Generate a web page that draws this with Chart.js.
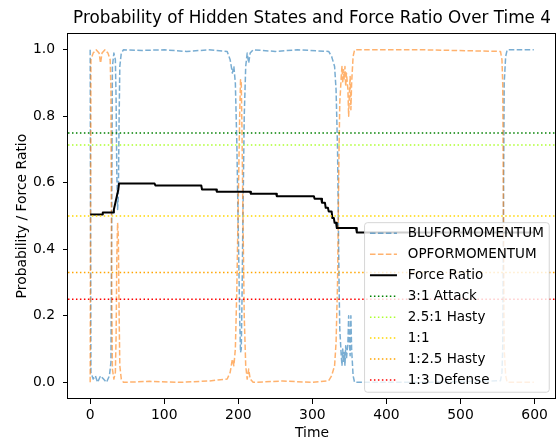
<!DOCTYPE html>
<html>
<head>
<meta charset="utf-8">
<script src="https://cdn.jsdelivr.net/npm/chart.js@4.4.0/dist/chart.umd.min.js"></script>
<style>
  html, body { margin: 0; padding: 0; background: #fff; }
  #wrap { width: 560px; height: 442px; }
</style>
</head>
<body>
<div id="wrap"><canvas id="chart" width="560" height="442"></canvas></div>
<script>
// --- data ---
const bluTime = [0, 1, 4, 7, 10, 14, 18, 22, 26, 28, 29, 30, 32, 34, 35, 36, 37, 38, 39, 40, 42, 45, 70, 100, 130, 160, 185, 189, 192, 194, 196, 198, 200, 202, 203, 204, 205, 206, 208, 210, 212, 214, 216, 220, 250, 280, 322, 326, 330, 332, 334, 335, 336, 337, 339, 340, 341, 342, 343, 344, 345, 346, 348, 349, 350, 351, 352, 353, 355, 357, 450, 554, 556, 557, 558, 559, 561, 563, 599];
const bluValue = [1.0, 0.03, 0.01, 0.02, 0.0, 0.02, 0.01, 0.0, 0.02, 0.06, 0.45, 0.95, 0.99, 0.97, 0.85, 0.62, 0.52, 0.56, 0.78, 0.95, 0.99, 1.0, 0.998, 1.0, 0.995, 1.0, 0.995, 0.97, 0.93, 0.95, 0.9, 0.72, 0.45, 0.18, 0.09, 0.1, 0.25, 0.45, 0.8, 0.95, 0.99, 0.96, 0.99, 1.0, 0.995, 1.0, 0.995, 0.98, 0.95, 0.88, 0.7, 0.5, 0.3, 0.16, 0.08, 0.05, 0.1, 0.06, 0.09, 0.05, 0.11, 0.07, 0.12, 0.2, 0.12, 0.08, 0.2, 0.1, 0.02, 0.0, 0.0, 0.005, 0.03, 0.1, 0.5, 0.9, 0.98, 1.0, 1.0];

const opTime = [0, 1, 4, 8, 12, 14, 16, 20, 24, 27, 28, 29, 30, 32, 34, 35, 36, 37, 38, 39, 40, 42, 45, 80, 120, 160, 185, 189, 192, 194, 196, 198, 200, 202, 203, 204, 205, 206, 208, 210, 212, 214, 216, 220, 260, 300, 322, 326, 330, 332, 334, 335, 336, 337, 339, 340, 341, 342, 343, 344, 345, 346, 348, 349, 350, 351, 352, 353, 355, 357, 450, 554, 556, 557, 558, 559, 561, 563, 599];
const opValue = [0.0, 0.97, 0.99, 1.0, 0.99, 0.96, 0.99, 1.0, 0.99, 0.97, 0.88, 0.3, 0.04, 0.01, 0.03, 0.14, 0.38, 0.48, 0.44, 0.22, 0.05, 0.01, 0.0, 0.003, 0.0, 0.004, 0.01, 0.03, 0.07, 0.05, 0.1, 0.28, 0.55, 0.82, 0.91, 0.9, 0.75, 0.55, 0.2, 0.05, 0.01, 0.04, 0.01, 0.0, 0.004, 0.0, 0.005, 0.02, 0.05, 0.12, 0.3, 0.5, 0.7, 0.84, 0.92, 0.95, 0.9, 0.94, 0.91, 0.95, 0.89, 0.93, 0.88, 0.8, 0.87, 0.92, 0.82, 0.9, 0.98, 1.0, 1.0, 0.995, 0.97, 0.9, 0.5, 0.1, 0.02, 0.0, 0.0];

const forceTime = [0, 16, 17, 31, 32, 34, 36, 38, 39, 87, 88, 150, 151, 170, 171, 216, 217, 251, 252, 302, 303, 312, 313, 317, 318, 321, 322, 326, 327, 329, 330, 332, 333, 359, 360, 599];
const forceValue = [0.505, 0.505, 0.511, 0.511, 0.52, 0.54, 0.56, 0.58, 0.598, 0.598, 0.592, 0.592, 0.58, 0.58, 0.573, 0.573, 0.567, 0.567, 0.56, 0.56, 0.552, 0.552, 0.54, 0.54, 0.525, 0.525, 0.514, 0.514, 0.494, 0.494, 0.48, 0.48, 0.464, 0.464, 0.451, 0.451];

const refLabels = ['3:1 Attack', '2.5:1 Hasty', '1:1', '1:2.5 Hasty', '1:3 Defense'];
const refLevels = [0.75, 0.714, 0.5, 0.33, 0.25];
const refColors = ['green', 'greenyellow', 'gold', 'orange', 'red'];

const xTicks = [0, 100, 200, 300, 400, 500, 600];
const yTicks = [0.0, 0.2, 0.4, 0.6, 0.8, 1.0];
const xMin = -29.95, xMax = 628.95;
const yMin = -0.05, yMax = 1.05;

// --- chart ---
const FONT = "'DejaVu Sans', sans-serif";
const FS = 13.9;
const LEGEND_FS = 13.5;

function points(times, values) {
  return times.map((t, i) => ({ x: t, y: values[i] }));
}

const datasets = [
  { label: 'BLUFORMOMENTUM', data: points(bluTime, bluValue), borderColor: 'rgba(31,119,180,0.6)', borderWidth: 1.5, borderDash: [5.55, 2.4], order: 10 },
  { label: 'OPFORMOMENTUM', data: points(opTime, opValue), borderColor: 'rgba(255,127,14,0.6)', borderWidth: 1.5, borderDash: [5.55, 2.4], order: 9 },
  { label: 'Force Ratio', data: points(forceTime, forceValue), borderColor: '#000', borderWidth: 2, borderDash: [], order: 8 }
];
refLabels.forEach((lab, i) => {
  datasets.push({
    label: lab,
    data: [{ x: xMin, y: refLevels[i] }, { x: xMax, y: refLevels[i] }],
    borderColor: refColors[i], borderWidth: 1.5, borderDash: [1.5, 2.475], order: 7 - i
  });
});

// spines + legend inside the plot (lower right)
const framePlugin = {
  id: 'frameAndLegend',
  afterDraw(chart) {
    const { ctx, chartArea: a } = chart;
    ctx.save();
    ctx.strokeStyle = '#000';
    ctx.lineWidth = 1;
    ctx.strokeRect(Math.round(a.left) - 0.5, Math.round(a.top) + 0.5, Math.round(a.right - a.left), Math.round(a.bottom - a.top) - 1);

    ctx.font = `${LEGEND_FS}px ${FONT}`;
    const items = chart.data.datasets;
    const textW = Math.max(...items.map(d => ctx.measureText(d.label).width));
    const pad = 0.4 * LEGEND_FS, handleLen = 2 * LEGEND_FS, gap = 0.8 * LEGEND_FS, rowH = 20.95;
    const w = pad * 2 + handleLen + gap + textW;
    const h = items.length * rowH + 2;
    const right = a.right - 0.5 * LEGEND_FS, bottom = a.bottom - 0.5 * LEGEND_FS;
    const left = right - w, top = bottom - h;
    ctx.beginPath();
    ctx.roundRect(left, top, w, h, 3);
    ctx.fillStyle = 'rgba(255,255,255,0.8)';
    ctx.fill();
    ctx.strokeStyle = 'rgba(204,204,204,0.8)';
    ctx.stroke();
    items.forEach((d, i) => {
      const cy = top + 10.7 + i * rowH;
      ctx.beginPath();
      ctx.setLineDash(d.borderDash || []);
      ctx.strokeStyle = d.borderColor;
      ctx.lineWidth = d.borderWidth;
      ctx.moveTo(left + pad, cy);
      ctx.lineTo(left + pad + handleLen, cy);
      ctx.stroke();
      ctx.setLineDash([]);
      ctx.fillStyle = '#000';
      ctx.textBaseline = 'middle';
      ctx.textAlign = 'left';
      ctx.fillText(d.label, left + pad + handleLen + gap, cy);
    });
    ctx.restore();
  }
};

new Chart(document.getElementById('chart').getContext('2d'), {
  type: 'line',
  data: { datasets },
  options: {
    responsive: false,
    animation: false,
    layout: { padding: { left: 0, right: 4, top: 0, bottom: 0 } },
    elements: {
      point: { radius: 0 },
      line: { tension: 0, fill: false, borderJoinStyle: 'round', borderCapStyle: 'butt' }
    },
    plugins: {
      legend: { display: false },
      tooltip: { enabled: false },
      title: {
        display: true,
        fullSize: false,
        text: 'Probability of Hidden States and Force Ratio Over Time 4',
        color: '#000',
        font: { family: FONT, size: 16.8, weight: 'normal' },
        padding: { top: 9, bottom: 4 }
      }
    },
    scales: {
      x: {
        type: 'linear',
        min: xMin,
        max: xMax,
        afterBuildTicks: s => { s.ticks = xTicks.map(v => ({ value: v })); },
        afterFit: s => { s.height = 43; },
        ticks: { color: '#000', font: { family: FONT, size: FS }, padding: 3, maxRotation: 0, autoSkip: false, callback: v => String(v) },
        grid: { drawOnChartArea: false, drawTicks: true, tickLength: 5, tickColor: '#000', tickWidth: 1 },
        border: { display: false },
        title: { display: true, text: 'Time', color: '#000', font: { family: FONT, size: FS }, padding: { top: 0, bottom: 0 } }
      },
      y: {
        type: 'linear',
        min: yMin,
        max: yMax,
        afterBuildTicks: s => { s.ticks = yTicks.map(v => ({ value: v })); },
        afterFit: s => { s.width = 68; },
        ticks: { color: '#000', font: { family: FONT, size: FS }, padding: 8, autoSkip: false, callback: v => v.toFixed(1) },
        grid: { drawOnChartArea: false, drawTicks: true, tickLength: 5, tickColor: '#000', tickWidth: 1 },
        border: { display: false },
        title: { display: true, text: 'Probability / Force Ratio', color: '#000', font: { family: FONT, size: FS }, padding: { top: 14, bottom: 0 } }
      }
    }
  },
  plugins: [framePlugin]
});
</script>
</body>
</html>
